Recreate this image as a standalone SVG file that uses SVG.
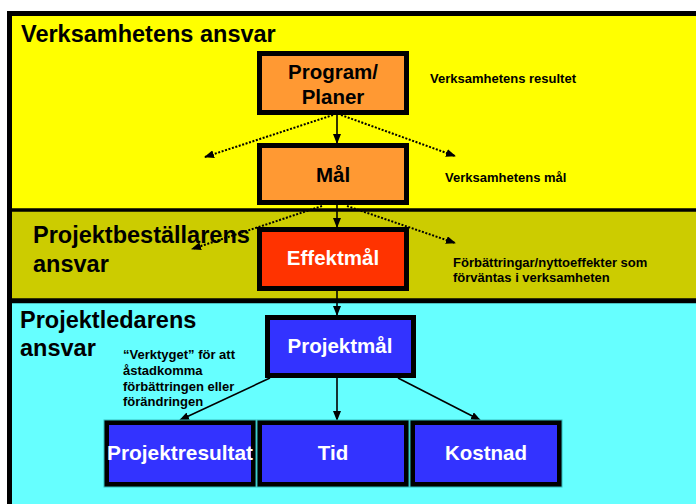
<svg xmlns="http://www.w3.org/2000/svg" width="696" height="504" viewBox="0 0 696 504">
  <style>
    text { font-family: "Liberation Sans", Arial, sans-serif; font-weight: bold; }
    .head { font-size: 23.5px; fill: #000; }
    .side { font-size: 13px; fill: #000; }
    .lbl { font-size: 20.5px; text-anchor: middle; }
    .dark { fill: #000; }
    .light { fill: #fff; }
    .box { stroke: #000; stroke-width: 5; }
    .orange { fill: #FF9933; }
    .red { fill: #FF3300; }
    .blue { fill: #3333FF; }
    .edge { fill: none; stroke: #33BBBB; stroke-width: 1; }
    .solid { fill: none; stroke: #000; stroke-width: 1.6; marker-end: url(#head); }
    .dotted { fill: none; stroke: #000; stroke-width: 2; stroke-dasharray: 2 1.6; marker-end: url(#head); }
  </style>
  <defs>
    <marker id="head" markerWidth="10" markerHeight="8" refX="9" refY="4" orient="auto" markerUnits="userSpaceOnUse">
      <path d="M0,0 L10,4 L0,8 Z" fill="#000"/>
    </marker>
  </defs>

  <rect x="0" y="0" width="696" height="504" fill="#fff"/>

  <!-- responsibility bands -->
  <g id="bands">
    <rect x="9.5" y="13.5" width="700" height="196.5" fill="#FFFF00"/>
    <rect x="9.5" y="210" width="700" height="90.8" fill="#CCCC00"/>
    <rect x="9.5" y="300.8" width="700" height="210" fill="#66FFFF"/>
    <line x1="7" y1="13.5" x2="700" y2="13.5" stroke="#000" stroke-width="5"/>
    <line x1="9.5" y1="11" x2="9.5" y2="510" stroke="#000" stroke-width="5"/>
    <line x1="9.5" y1="210" x2="700" y2="210" stroke="#000" stroke-width="3.5"/>
    <line x1="9.5" y1="300.8" x2="700" y2="300.8" stroke="#000" stroke-width="5"/>
    <text class="head" x="21" y="42">Verksamhetens ansvar</text>
    <text class="head" x="33" y="243">Projektbeställarens</text>
    <text class="head" x="33" y="272">ansvar</text>
    <text class="head" x="20" y="328">Projektledarens</text>
    <text class="head" x="20" y="356">ansvar</text>
  </g>

  <!-- connectors -->
  <g id="connectors">
    <line class="solid" x1="337" y1="115" x2="337" y2="143"/>
    <line class="solid" x1="337" y1="205" x2="337" y2="227"/>
    <line class="solid" x1="337" y1="291" x2="337" y2="315"/>
    <line class="solid" x1="337" y1="378" x2="337" y2="420"/>
    <line class="solid" x1="270" y1="378" x2="180" y2="420"/>
    <line class="solid" x1="398" y1="378" x2="480" y2="420"/>
    <line class="dotted" x1="333" y1="115" x2="205" y2="157"/>
    <line class="dotted" x1="341" y1="115" x2="455" y2="156"/>
    <line class="dotted" x1="322" y1="206" x2="192" y2="249"/>
    <line class="dotted" x1="347" y1="206" x2="455" y2="243"/>
  </g>

  <g id="program">
    <rect class="box orange" x="259.5" y="53.5" width="147" height="59"/>
    <text class="lbl dark" x="333" y="79">Program/</text>
    <text class="lbl dark" x="333" y="104">Planer</text>
  </g>
  <g id="mal">
    <rect class="box orange" x="259.5" y="145.5" width="147" height="57"/>
    <text class="lbl dark" x="333" y="182">Mål</text>
  </g>
  <g id="effektmal">
    <rect class="box red" x="259.5" y="229.5" width="147" height="59"/>
    <text class="lbl light" x="333" y="265">Effektmål</text>
  </g>
  <g id="projektmal">
    <rect class="box blue" x="267.5" y="317.5" width="146" height="58"/>
    <text class="lbl light" x="340" y="353">Projektmål</text>
  </g>
  <g id="projektresultat">
    <rect class="box blue" x="106.5" y="422.5" width="147" height="62"/>
    <rect class="edge" x="104" y="420" width="152" height="67"/>
    <text class="lbl light" x="180" y="460" textLength="146" lengthAdjust="spacingAndGlyphs">Projektresultat</text>
  </g>
  <g id="tid">
    <rect class="box blue" x="259.5" y="422.5" width="147" height="62"/>
    <rect class="edge" x="257" y="420" width="152" height="67"/>
    <text class="lbl light" x="333" y="460">Tid</text>
  </g>
  <g id="kostnad">
    <rect class="box blue" x="412.5" y="422.5" width="147" height="62"/>
    <rect class="edge" x="410" y="420" width="152" height="67"/>
    <text class="lbl light" x="486" y="460">Kostnad</text>
  </g>

  <!-- annotations -->
  <g id="notes">
    <text class="side" x="430" y="83">Verksamhetens resultet</text>
    <text class="side" x="445" y="182">Verksamhetens mål</text>
    <text class="side" x="453" y="267">Förbättringar/nyttoeffekter som</text>
    <text class="side" x="453" y="282">förväntas i verksamheten</text>
    <text class="side" x="123" y="359">“Verktyget” för att</text>
    <text class="side" x="123" y="375">åstadkomma</text>
    <text class="side" x="123" y="391">förbättringen eller</text>
    <text class="side" x="123" y="406">förändringen</text>
  </g>
</svg>
